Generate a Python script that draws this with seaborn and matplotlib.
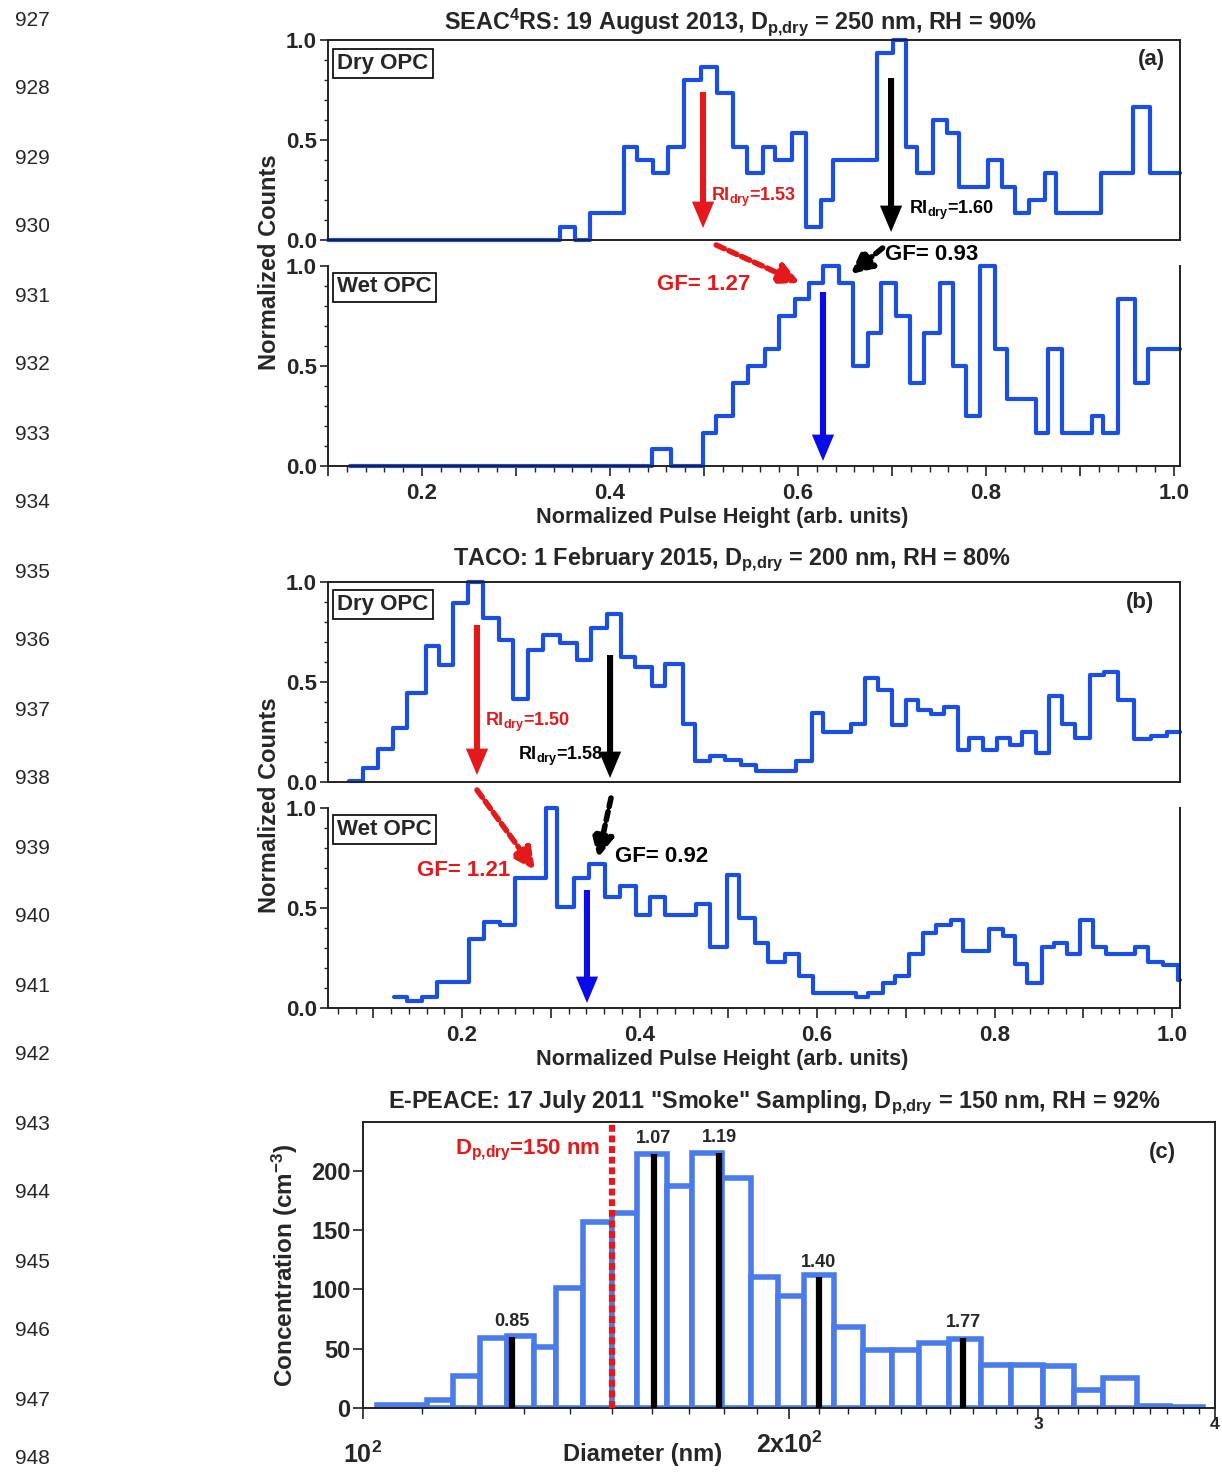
import numpy as np
import pandas as pd
import matplotlib
matplotlib.use('Agg')
import matplotlib.pyplot as plt
import seaborn as sns
from matplotlib import font_manager
from matplotlib.ticker import MultipleLocator, FuncFormatter, FixedLocator, NullFormatter

# ---------------- data ----------------
# Panel (a) SEAC4RS
a_dry_edges = [0.100, 0.347, 0.363, 0.379, 0.415, 0.429, 0.446, 0.462, 0.479, 0.497, 0.514,
               0.531, 0.546, 0.563, 0.576, 0.594, 0.609, 0.625, 0.637, 0.684, 0.701, 0.715,
               0.727, 0.744, 0.759, 0.771, 0.802, 0.817, 0.831, 0.846, 0.863, 0.875, 0.922,
               0.956, 0.975, 1.006]
a_dry_vals = [0.0, 0.067, 0.0, 0.133, 0.467, 0.400, 0.333, 0.467, 0.800, 0.867, 0.733,
              0.467, 0.333, 0.467, 0.400, 0.533, 0.067, 0.200, 0.400, 0.933, 1.000, 0.467,
              0.333, 0.600, 0.533, 0.267, 0.400, 0.267, 0.133, 0.200, 0.333, 0.133, 0.333,
              0.667, 0.333]
a_wet_edges = [0.123, 0.445, 0.465, 0.499, 0.513, 0.531, 0.547, 0.565, 0.580, 0.597, 0.612,
               0.627, 0.644, 0.659, 0.675, 0.688, 0.704, 0.719, 0.734, 0.751, 0.765, 0.779,
               0.794, 0.810, 0.822, 0.853, 0.866, 0.881, 0.913, 0.925, 0.940, 0.959, 0.972,
               1.006]
a_wet_vals = [0.0, 0.083, 0.0, 0.167, 0.250, 0.417, 0.500, 0.583, 0.750, 0.833, 0.917,
              1.000, 0.917, 0.500, 0.667, 0.917, 0.750, 0.417, 0.667, 0.917, 0.500, 0.250,
              1.000, 0.583, 0.333, 0.167, 0.583, 0.167, 0.250, 0.167, 0.833, 0.417, 0.583]

# Panel (b) TACO
b_dry_edges = [0.073, 0.088, 0.105, 0.122, 0.138, 0.159, 0.174, 0.190, 0.207, 0.224, 0.242,
               0.257, 0.274, 0.291, 0.310, 0.330, 0.345, 0.363, 0.379, 0.395, 0.414, 0.429,
               0.449, 0.463, 0.479, 0.496, 0.514, 0.531, 0.576, 0.594, 0.607, 0.638, 0.654,
               0.669, 0.685, 0.700, 0.714, 0.728, 0.743, 0.759, 0.771, 0.787, 0.803, 0.817,
               0.831, 0.847, 0.861, 0.876, 0.891, 0.908, 0.923, 0.939, 0.957, 0.976, 0.994,
               1.009]
b_dry_vals = [0.005, 0.072, 0.165, 0.270, 0.447, 0.680, 0.585, 0.897, 1.000, 0.820,
              0.710, 0.415, 0.660, 0.735, 0.697, 0.610, 0.770, 0.840, 0.625, 0.575,
              0.480, 0.590, 0.290, 0.107, 0.130, 0.110, 0.085, 0.057, 0.107, 0.343,
              0.250, 0.290, 0.520, 0.460, 0.285, 0.410, 0.360, 0.340, 0.377, 0.160,
              0.222, 0.160, 0.220, 0.185, 0.250, 0.147, 0.430, 0.290, 0.220, 0.535,
              0.552, 0.410, 0.215, 0.230, 0.250]
b_wet_edges = [0.123, 0.138, 0.155, 0.172, 0.208, 0.225, 0.243, 0.260, 0.295, 0.307, 0.326,
               0.343, 0.361, 0.378, 0.396, 0.412, 0.429, 0.464, 0.479, 0.499, 0.512, 0.530,
               0.545, 0.564, 0.580, 0.596, 0.644, 0.658, 0.674, 0.688, 0.704, 0.719, 0.734,
               0.751, 0.765, 0.794, 0.810, 0.823, 0.837, 0.854, 0.867, 0.882, 0.896, 0.911,
               0.926, 0.958, 0.973, 0.990, 1.007, 1.009]
b_wet_vals = [0.053, 0.037, 0.053, 0.130, 0.345, 0.430, 0.415, 0.650, 1.000, 0.505,
              0.650, 0.720, 0.557, 0.610, 0.465, 0.555, 0.465, 0.520, 0.307, 0.665,
              0.452, 0.323, 0.232, 0.270, 0.162, 0.075, 0.053, 0.075, 0.127, 0.162,
              0.270, 0.377, 0.415, 0.440, 0.287, 0.395, 0.362, 0.220, 0.127, 0.307,
              0.323, 0.270, 0.440, 0.305, 0.270, 0.305, 0.232, 0.215, 0.140]

# Panel (c) E-PEACE size distribution
c_edges = [102.3, 111.0, 115.8, 121.0, 126.4, 132.1, 136.9, 143.1, 150.0, 156.2, 164.0,
           170.8, 179.4, 188.0, 196.5, 204.9, 215.2, 225.6, 236.5, 247.1, 259.5, 273.4,
           287.1, 302.4, 318.1, 333.4, 352.4, 371.8, 392.3]
c_conc = [2.5, 7, 27, 59, 61, 51, 101, 157, 164, 214, 187, 215, 194, 110, 94, 112, 68,
          49, 49, 55, 58, 36, 36, 35, 15, 25, 2, 1]
c_dp_dry = 150
c_gf = [0.85, 1.07, 1.19, 1.40, 1.77]
c_gf_height = [60, 214, 215, 110, 59]
c_gf_labels = ['0.85', '1.07', '1.19', '1.40', '1.77']

line_numbers = ['927', '928', '929', '930', '931', '932', '933', '934', '935', '936', '937',
                '938', '939', '940', '941', '942', '943', '944', '945', '946', '947', '948']

# ---------------- style ----------------
sns.set_theme(style='white')
avail = {f.name for f in font_manager.fontManager.ttflist}
NARROW = 'Liberation Sans Narrow' if 'Liberation Sans Narrow' in avail else 'Liberation Sans'
plt.rcParams['font.family'] = [NARROW, 'DejaVu Sans']
plt.rcParams['font.weight'] = 'bold'
plt.rcParams['mathtext.fontset'] = 'custom'
plt.rcParams['mathtext.rm'] = f'{NARROW}:bold'
plt.rcParams['mathtext.it'] = f'{NARROW}:bold'
plt.rcParams['mathtext.bf'] = f'{NARROW}:bold'
plt.rcParams['mathtext.default'] = 'rm'

STEP_BLUE = '#1b4fe4'
BAR_BLUE = '#4a7bea'
RED = '#e3191c'
ARROW_BLUE = '#0b0be8'
SPINE = '#222222'
W, H = 1222, 1472
FS = 16
TFS = 16.8

fig = plt.figure(figsize=(W / 100, H / 100), dpi=100)


def rect(l, t, r, b):
    return [l / W, 1 - b / H, (r - l) / W, (b - t) / H]


def fpos(x, y):
    return x / W, 1 - y / H


ax_a_dry = fig.add_axes(rect(328, 40, 1180, 240))
ax_a_wet = fig.add_axes(rect(328, 266, 1180, 466))
ax_b_dry = fig.add_axes(rect(328, 582, 1180, 782))
ax_b_wet = fig.add_axes(rect(328, 808, 1180, 1008))
ax_c = fig.add_axes(rect(363, 1122, 1215, 1408))


def steps(ax, edges, vals):
    df = pd.DataFrame({'x': edges, 'y': list(vals) + [vals[-1]]})
    sns.lineplot(data=df, x='x', y='y', ax=ax, drawstyle='steps-post', color=STEP_BLUE,
                 lw=3, estimator=None, sort=False, legend=False, clip_on=False)


def style_hist_axes(ax, xlim, wet):
    ax.set_facecolor('none')
    ax.set_xlim(*xlim)
    ax.set_ylim(0, 1)
    ax.set_xlabel('')
    ax.set_ylabel('')
    for s in ax.spines.values():
        s.set_color(SPINE)
        s.set_linewidth(1.4)
    ax.yaxis.set_major_locator(MultipleLocator(0.5))
    ax.yaxis.set_minor_locator(MultipleLocator(0.1))
    ax.yaxis.set_major_formatter(FuncFormatter(lambda v, p: f'{v:.1f}'))
    ax.tick_params(axis='y', which='major', direction='out', length=6, width=1.2,
                   color=SPINE, labelsize=FS, pad=2, left=True)
    ax.tick_params(axis='y', which='minor', direction='out', length=3, width=1.0,
                   color=SPINE, left=True)
    if wet:
        ax.spines['top'].set_visible(False)
        ax.xaxis.set_major_locator(MultipleLocator(0.1))
        ax.xaxis.set_minor_locator(MultipleLocator(0.02))
        ax.xaxis.set_major_formatter(FuncFormatter(
            lambda v, p: f'{v:.1f}' if round(v * 10) % 2 == 0 else ''))
        ax.tick_params(axis='x', which='major', direction='out', length=7, width=1.2,
                       color=SPINE, labelsize=FS, pad=5, bottom=True)
        ax.tick_params(axis='x', which='minor', direction='out', length=4, width=1.0,
                       color=SPINE, bottom=True)
    else:
        ax.tick_params(axis='x', which='both', bottom=False, labelbottom=False)


def boxed_label(ax, text, y):
    ax.text(0.011, y, text, transform=ax.transAxes, fontsize=16, va='center', ha='left',
            bbox=dict(boxstyle='square,pad=0.18', fc='white', ec='black', lw=1.2), zorder=5)


def varrow(ax, x, y0, y1, color, tail=4.4, hw=16, hl=19):
    ax.annotate('', xy=(x, y1), xytext=(x, y0), xycoords='data', textcoords='data',
                arrowprops=dict(arrowstyle=f'simple,head_length={hl/10},head_width={hw/10},'
                                           f'tail_width={tail/10}',
                                mutation_scale=10, color=color, lw=0, shrinkA=0, shrinkB=0),
                annotation_clip=False, zorder=6)


def dashed_arrow(ax_from, p0, ax_to, p1, color):
    ax_to.annotate('', xy=p1, xycoords=ax_to.transData, xytext=p0,
                   textcoords=ax_from.transData,
                   arrowprops=dict(arrowstyle='-|>,head_length=0.9,head_width=0.45',
                                   mutation_scale=14, color=color, lw=4,
                                   linestyle=(0, (1.6, 0.9)), shrinkA=0, shrinkB=0),
                   annotation_clip=False, zorder=7)


# ---------------- panel (a) ----------------
steps(ax_a_dry, a_dry_edges, a_dry_vals)
steps(ax_a_wet, a_wet_edges, a_wet_vals)
style_hist_axes(ax_a_dry, (0.1, 1.0064), wet=False)
style_hist_axes(ax_a_wet, (0.1, 1.0064), wet=True)
boxed_label(ax_a_dry, 'Dry OPC', 0.885)
boxed_label(ax_a_wet, 'Wet OPC', 0.895)
ax_a_dry.text(0.966, 0.90, '(a)', transform=ax_a_dry.transAxes, fontsize=FS, ha='center',
              va='center')
varrow(ax_a_dry, 0.499, 0.74, 0.06, RED)
ax_a_dry.text(0.507, 0.215, r'RI$_{dry}$=1.53', color=RED, fontsize=13, ha='left', va='center')
varrow(ax_a_dry, 0.699, 0.81, 0.04, 'black')
ax_a_dry.text(0.718, 0.15, r'RI$_{dry}$=1.60', color='black', fontsize=13, ha='left',
              va='center')
varrow(ax_a_wet, 0.6266, 0.87, 0.025, ARROW_BLUE)
dashed_arrow(ax_a_dry, (0.513, -0.025), ax_a_wet, (0.602, 0.915), RED)
dashed_arrow(ax_a_dry, (0.690, -0.04), ax_a_wet, (0.656, 0.96), 'black')
ax_a_wet.text(0.6926, 1.06, 'GF= 0.93', color='black', fontsize=16, ha='left', va='center')
ax_a_wet.text(0.4505, 0.905, 'GF= 1.27', color=RED, fontsize=16, ha='left', va='center')

# ---------------- panel (b) ----------------
steps(ax_b_dry, b_dry_edges, b_dry_vals)
steps(ax_b_wet, b_wet_edges, b_wet_vals)
style_hist_axes(ax_b_dry, (0.049, 1.009), wet=False)
style_hist_axes(ax_b_wet, (0.049, 1.009), wet=True)
boxed_label(ax_b_dry, 'Dry OPC', 0.885)
boxed_label(ax_b_wet, 'Wet OPC', 0.895)
ax_b_dry.text(0.953, 0.895, '(b)', transform=ax_b_dry.transAxes, fontsize=FS, ha='center',
              va='center')
varrow(ax_b_dry, 0.2169, 0.785, 0.035, RED)
ax_b_dry.text(0.226, 0.30, r'RI$_{dry}$=1.50', color=RED, fontsize=13, ha='left', va='center')
varrow(ax_b_dry, 0.3668, 0.635, 0.02, 'black')
ax_b_dry.text(0.359, 0.13, r'RI$_{dry}$=1.58', color='black', fontsize=13, ha='right',
              va='center')
varrow(ax_b_wet, 0.3408, 0.59, 0.025, ARROW_BLUE)
dashed_arrow(ax_b_dry, (0.2169, -0.04), ax_b_wet, (0.2822, 0.69), RED)
dashed_arrow(ax_b_dry, (0.3679, -0.08), ax_b_wet, (0.3532, 0.75), 'black')
ax_b_wet.text(0.3719, 0.76, 'GF= 0.92', color='black', fontsize=16, ha='left', va='center')
ax_b_wet.text(0.1495, 0.69, 'GF= 1.21', color=RED, fontsize=16, ha='left', va='center')

# shared y / x labels and titles for (a), (b)
fig.text(*fpos(740, 22), r'SEAC$^{4}$RS: 19 August 2013, D$_{p{,}dry}$ = 250 nm, RH = 90%',
         ha='center', va='center', fontsize=TFS)
fig.text(*fpos(732, 560), r'TACO: 1 February 2015, D$_{p{,}dry}$ = 200 nm, RH = 80%',
         ha='center', va='center', fontsize=TFS)
for yc in (262, 805):
    fig.text(*fpos(270, yc), 'Normalized Counts', rotation=90, ha='center', va='center',
             fontsize=17)
for yc in (518, 1060):
    fig.text(*fpos(722, yc), 'Normalized Pulse Height (arb. units)', ha='center',
             va='center', fontsize=15.6)

# ---------------- panel (c) ----------------
ax_c.set_xscale('log')
lefts = np.array(c_edges[:-1])
widths = np.diff(c_edges)
ax_c.bar(lefts, c_conc, width=widths, align='edge', facecolor='white', edgecolor=BAR_BLUE,
         linewidth=4, zorder=2)
for gf, h in zip(c_gf, c_gf_height):
    ax_c.plot([c_dp_dry * gf, c_dp_dry * gf], [0, h], color='black', lw=4.5, zorder=3,
              solid_capstyle='butt')
for gf, h, lab in zip(c_gf, c_gf_height, c_gf_labels):
    ax_c.annotate(lab, xy=(c_dp_dry * gf, h), xytext=(0, 5), textcoords='offset points',
                  ha='center', va='bottom', fontsize=13, zorder=4)
ax_c.axvline(c_dp_dry, color=RED, lw=4.5, linestyle=(0, (1.1, 0.6)), zorder=4)
ax_c.text(147, 217, r'D$_{p{,}dry}$=150 nm', color=RED, fontsize=16, ha='right', va='center')
ax_c.text(0.938, 0.892, '(c)', transform=ax_c.transAxes, fontsize=FS, ha='center',
          va='center')
ax_c.set_xlim(100, 400)
ax_c.set_ylim(0, 241)
ax_c.set_facecolor('white')
for s in ax_c.spines.values():
    s.set_color(SPINE)
    s.set_linewidth(1.4)
ax_c.xaxis.set_major_locator(FixedLocator([100, 200, 300, 400]))
ax_c.xaxis.set_major_formatter(FuncFormatter(
    lambda v, p: {100: r'10$^{2}$', 200: r'2x10$^{2}$', 300: r'$^{3}$', 400: r'$^{4}$'}.get(int(round(v)), '')))
ax_c.xaxis.set_minor_locator(FixedLocator([v for v in range(110, 400, 10) if v % 100]))
ax_c.xaxis.set_minor_formatter(NullFormatter())
ax_c.tick_params(axis='x', which='major', direction='out', length=8, width=1.2, color=SPINE,
                 labelsize=FS + 2, bottom=True)
ax_c.tick_params(axis='x', which='minor', direction='out', length=4, width=1.0, color=SPINE,
                 bottom=True)
ax_c.yaxis.set_major_locator(MultipleLocator(50))
ax_c.tick_params(axis='y', which='major', direction='out', length=7, width=1.2, color=SPINE,
                 labelsize=FS + 1, left=True, pad=2)
ticks = ax_c.xaxis.get_major_ticks()
ticks[0].set_pad(16)
ticks[1].set_pad(9)
ticks[2].set_pad(0)
ticks[3].set_pad(0)
ax_c.set_xlabel('')
ax_c.set_ylabel('')
fig.text(*fpos(774, 1103),
         r'E-PEACE: 17 July 2011 "Smoke" Sampling, D$_{p{,}dry}$ = 150 nm, RH = 92%',
         ha='center', va='center', fontsize=TFS)
fig.text(*fpos(285, 1265), r'Concentration (cm$^{-3}$)', rotation=90, ha='center',
         va='center', fontsize=17.5)
fig.text(*fpos(643, 1455), 'Diameter (nm)', ha='center', va='center', fontsize=17)

# ---------------- manuscript line numbers ----------------
for i, ln in enumerate(line_numbers):
    y = min(20 + 69 * i, 1459)
    fig.text(*fpos(32, y), ln, ha='center', va='center', fontsize=15,
             fontweight='normal', family=['Liberation Sans', 'DejaVu Sans'])

fig.savefig('out.png', dpi=100)
